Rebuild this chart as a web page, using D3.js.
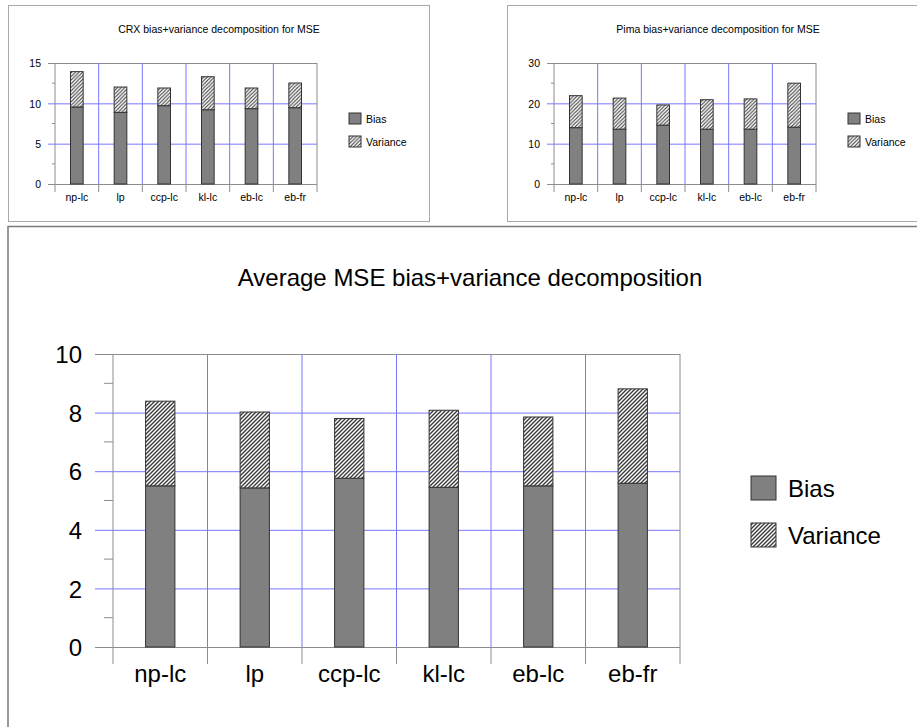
<!DOCTYPE html>
<html>
<head>
<meta charset="utf-8">
<script src="https://cdn.jsdelivr.net/npm/d3@7"></script>
<style>
  body { margin: 0; background: #fff; }
  text { font-family: "Liberation Sans", Arial, Helvetica, sans-serif; fill: #000; }
</style>
</head>
<body>
<svg id="chart" width="917" height="727"></svg>
<script>
// data
const methods = ["np-lc", "lp", "ccp-lc", "kl-lc", "eb-lc", "eb-fr"];
const seriesNames = ["Bias", "Variance"];

const crxBias     = [9.55, 8.88, 9.71, 9.21, 9.34, 9.46];
const crxVariance = [4.38, 3.14, 2.19, 4.09, 2.56, 3.06];

const pimaBias     = [13.97, 13.6, 14.6, 13.6, 13.6, 14.1];
const pimaVariance = [7.93, 7.7, 5.0, 7.3, 7.5, 10.9];

const avgBias     = [5.50, 5.43, 5.76, 5.45, 5.50, 5.59];
const avgVariance = [2.89, 2.59, 2.04, 2.63, 2.35, 3.22];

const crxTicks  = [0, 5, 10, 15];
const pimaTicks = [0, 10, 20, 30];
const avgTicks  = [0, 2, 4, 6, 8, 10];

const svg = d3.select("#chart");
const gridBlue = "#7878ff";
const axisGray = "#8c8c8c";

// hatch pattern for Variance
const defs = svg.append("defs");
function hatch(id, step, sw) {
  const p = defs.append("pattern").attr("id", id)
    .attr("patternUnits", "userSpaceOnUse").attr("width", step).attr("height", step);
  p.append("rect").attr("width", step).attr("height", step).attr("fill", "#fff");
  p.append("path")
    .attr("d", `M${-step/2},${step/2} l${step},${-step} M0,${step} l${step},${-step} M${step/2},${step*1.5} l${step},${-step}`)
    .attr("stroke", "#3a3a3a").attr("stroke-width", sw);
}
hatch("hatchS", 3.6, 1.1);
hatch("hatchL", 4, 1.4);

function drawPanel(o) {
  // frame
  svg.append("rect").attr("x", o.frame[0]).attr("y", o.frame[1])
    .attr("width", o.frame[2]).attr("height", o.frame[3])
    .attr("fill", "none").attr("stroke", o.frameColor).attr("stroke-width", o.frameWidth);

  svg.append("text").attr("x", o.titleX).attr("y", o.titleY)
    .attr("text-anchor", "middle").attr("dominant-baseline", "central")
    .style("font-size", o.titleSize + "px").text(o.title);

  const x = d3.scaleBand().domain(methods).range([o.x0, o.x1]).paddingInner(0).paddingOuter(0);
  const y = d3.scaleLinear().domain([0, o.ticks[o.ticks.length - 1]]).range([o.yBot, o.yTop]);
  const g = svg.append("g");

  // minor ticks
  const step = o.ticks[1] - o.ticks[0];
  const minor = d3.range(step / 2, o.ticks[o.ticks.length - 1], step);
  g.selectAll(".minor").data(minor).join("line")
    .attr("x1", o.x0 - o.minorLen).attr("x2", o.x0)
    .attr("y1", d => y(d)).attr("y2", d => y(d))
    .attr("stroke", axisGray).attr("stroke-width", 1);

  // horizontal grid + y axis labels
  const yAxis = d3.axisLeft(y).tickValues(o.ticks).tickSize(0).tickPadding(0);
  const ya = g.append("g").attr("transform", `translate(${o.x0},0)`).call(yAxis);
  ya.select(".domain").remove();
  ya.selectAll(".tick line")
    .attr("x1", -o.majorLen).attr("x2", o.x1 - o.x0)
    .attr("stroke", d => (d === 0 || d === o.ticks[o.ticks.length - 1]) ? axisGray : gridBlue)
    .attr("stroke-width", 1);
  ya.selectAll(".tick text")
    .attr("x", -(o.x0 - o.labelRight)).attr("dy", "0.36em")
    .style("font-size", o.fontSize + "px").style("font-family", null).attr("fill", "#000");

  // vertical dividers (band edges)
  const edges = methods.map(m => x(m)).concat([o.x1]);
  g.selectAll(".vgrid").data(edges).join("line")
    .attr("x1", d => d).attr("x2", d => d)
    .attr("y1", o.yTop).attr("y2", o.yBot)
    .attr("stroke", (d, i) => (i === 0 || i === edges.length - 1) ? axisGray : gridBlue)
    .attr("stroke-width", 1);
  g.selectAll(".vtick").data(edges).join("line")
    .attr("x1", d => d).attr("x2", d => d)
    .attr("y1", o.yBot).attr("y2", o.yBot + o.tickDown)
    .attr("stroke", axisGray).attr("stroke-width", 1);

  // x labels via axis
  const xAxis = d3.axisBottom(x).tickSize(0).tickPadding(0);
  const xa = g.append("g").attr("transform", `translate(0,${o.yBot})`).call(xAxis);
  xa.select(".domain").remove();
  xa.selectAll(".tick text").attr("y", o.labelDown).attr("dy", "0.36em")
    .style("font-size", o.fontSize + "px").style("font-family", null).attr("fill", "#000");

  // stacked bars
  const rows = methods.map((m, i) => ({ method: m, Bias: o.bias[i], Variance: o.variance[i] }));
  const stack = d3.stack().keys(seriesNames)(rows);
  const bw = x.bandwidth() * o.barRatio;
  const fills = { Bias: "#808080", Variance: `url(#${o.hatch})` };
  svg.append("g").selectAll("g").data(stack).join("g")
    .attr("fill", d => fills[d.key])
    .selectAll("rect").data(d => d).join("rect")
    .attr("x", d => x(d.data.method) + (x.bandwidth() - bw) / 2)
    .attr("width", bw)
    .attr("y", d => y(d[1]))
    .attr("height", d => y(d[0]) - y(d[1]))
    .attr("stroke", "#333").attr("stroke-width", 1);

  // legend
  const lg = svg.append("g");
  seriesNames.forEach((s, i) => {
    const ly = o.legY[i];
    lg.append("rect").attr("x", o.legX).attr("y", ly)
      .attr("width", o.legW).attr("height", o.legH)
      .attr("fill", fills[s]).attr("stroke", "#333").attr("stroke-width", 1);
    lg.append("text").attr("x", o.legTextX).attr("y", ly + o.legH / 2)
      .attr("dominant-baseline", "central")
      .style("font-size", o.fontSize + "px").text(s);
  });
}

const small = {
  frameColor: "#a8a8a8", frameWidth: 1, titleSize: 10.5, titleY: 29,
  fontSize: 10.5, majorLen: 7, minorLen: 3, tickDown: 8, labelDown: 13,
  yTop: 63, yBot: 184, barRatio: 0.29, hatch: "hatchS",
  legW: 12, legH: 11, legY: [113, 136]
};

drawPanel(Object.assign({}, small, {
  frame: [8.5, 5.5, 421, 216], title: "CRX bias+variance decomposition for MSE", titleX: 219,
  x0: 55, x1: 317, labelRight: 41, ticks: crxTicks,
  bias: crxBias, variance: crxVariance, legX: 349, legTextX: 366
}));

drawPanel(Object.assign({}, small, {
  frame: [507.5, 5.5, 430, 216], title: "Pima bias+variance decomposition for MSE", titleX: 718,
  x0: 554, x1: 816, labelRight: 540, ticks: pimaTicks,
  bias: pimaBias, variance: pimaVariance, legX: 848, legTextX: 865
}));

drawPanel({
  frame: [8, 226.5, 950, 520], frameColor: "#7a7a7a", frameWidth: 1.5,
  title: "Average MSE bias+variance decomposition", titleX: 470, titleY: 277, titleSize: 24,
  fontSize: 24, majorLen: 18, minorLen: 9, tickDown: 17, labelDown: 26,
  x0: 113, x1: 680, yTop: 354, yBot: 647, labelRight: 82, ticks: avgTicks,
  barRatio: 0.31, hatch: "hatchL",
  bias: avgBias, variance: avgVariance,
  legX: 751, legTextX: 788, legW: 25, legH: 24, legY: [476, 523]
});
</script>
</body>
</html>
